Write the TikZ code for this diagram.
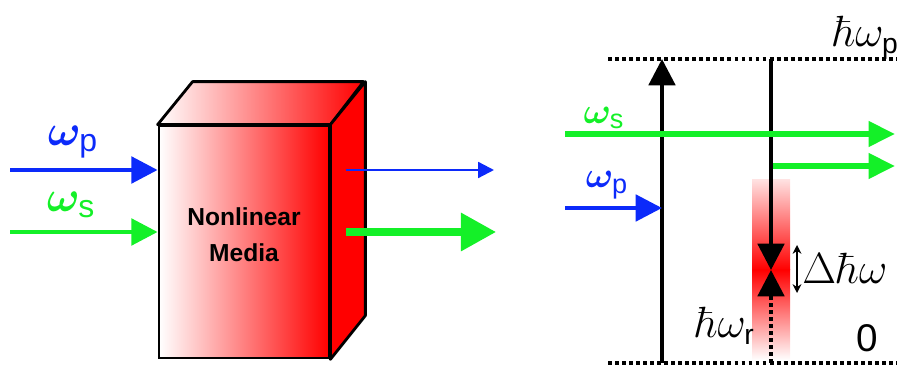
\documentclass[tikz,border=0pt]{standalone}
\usepackage{amsmath,amssymb}
\usepackage{fontspec}
\setsansfont{Liberation Sans}
\usepackage{tikz}
\usetikzlibrary{arrows.meta,calc}
\definecolor{pumpblue}{RGB}{12,42,250}
\definecolor{signalgreen}{RGB}{20,240,40}
\definecolor{mediared}{RGB}{255,0,0}
\tikzset{
  beam/.style={line width=2.6pt,-{Triangle[length=15pt,width=15pt]}},
  trans/.style={line width=2.3pt,-{Triangle[length=15pt,width=15pt]}},
  level/.style={line width=1.8pt,dash pattern=on 2.2pt off 1.8pt},
  wlabel/.style={font=\fontsize{26}{30}\selectfont\boldmath},
  elabel/.style={font=\fontsize{23}{26}\selectfont},
}

\begin{document}
\begin{tikzpicture}[x=0.02cm,y=-0.02cm]
  \useasboundingbox (0,0) rectangle (910,367);
  % nonlinear medium
  \node[draw,line width=1.6pt,minimum width=3.4cm,minimum height=4.64cm,inner sep=0pt,
        left color=white,right color=mediared] (media) at (244,242) {};
  \shadedraw[line width=1.6pt,line join=round,left color=white,right color=mediared]
    (media.north west) -- ++(35,-43) -- ++(171,0) -- (media.north east) -- cycle;
  \filldraw[line width=1.6pt,line join=round,fill=mediared]
    (media.north east) -- ++(35,-43) -- ++(0,234) -- (media.south east) -- cycle;
  \node[font=\sffamily\bfseries\fontsize{14}{20.4}\selectfont,align=center] (mediatxt) at (244,235) {Nonlinear\\Media};
  % beams in and out
  \coordinate (pin) at (10,170);
  \coordinate (sin) at (10,232);
  \coordinate (pout) at (346,170);
  \coordinate (pend) at (494,170);
  \coordinate (sout) at (346,232);
  \coordinate (send) at (496,232);
  \draw[beam,pumpblue] (pin) -- (pin -| media.west);
  \draw[beam,signalgreen] (sin) -- (sin -| media.west);
  \draw[pumpblue,line width=1.3pt,-{Triangle[length=9pt,width=9pt]}] (pout) -- (pend);
  \draw[signalgreen,line width=4pt,-{Triangle[length=20pt,width=21pt]}] (sout) -- (send);
  \node[wlabel,text=pumpblue] (wp) at (73,142) {$\omega_{\textsf{p}}$};
  \node[wlabel,text=signalgreen] (ws) at (71,205) {$\omega_{\textsf{s}}$};

  % energy levels
  \shade[top color=mediared!12,bottom color=mediared] (752,180) rectangle (790,270);
  \shade[top color=mediared,bottom color=white] (752,270) rectangle (790,360);
  \coordinate (ptop-w) at (608,59);
  \coordinate (ptop-e) at (897,59);
  \coordinate (gnd-w) at (608,363);
  \coordinate (gnd-e) at (897,363);
  \draw[level] (ptop-w) -- (ptop-e);
  \draw[level] (gnd-w) -- (gnd-e);
  \coordinate (up-s) at (662,363);
  \coordinate (up-e) at (662,59);
  \coordinate (dn-s) at (771,59);
  \coordinate (vib) at (771,270);
  \coordinate (vib-b) at (771,300);
  \coordinate (gnd-r) at (771,363);
  \draw[trans] (up-s) -- (up-e);
  \draw[trans] (dn-s) -- (vib);
  \draw[level] (gnd-r) -- (vib-b);
  \draw[trans] (vib-b) -- (vib);
  % beams
  \coordinate (s-w) at (565,134);
  \coordinate (s-e) at (895,134);
  \coordinate (i-w) at (773,166);
  \coordinate (i-e) at (895,166);
  \coordinate (p-w) at (565,208);
  \draw[signalgreen,line width=3pt,-{Triangle[length=15pt,width=14pt]}] (s-w) -- (s-e);
  \draw[signalgreen,line width=3pt,-{Triangle[length=15pt,width=14pt]}] (i-w) -- (i-e);
  \draw[pumpblue,line width=2.3pt,-{Triangle[length=15pt,width=15pt]}] (p-w) -- (p-w -| up-s);
  \node[wlabel,font=\fontsize{22}{26}\selectfont\boldmath,text=signalgreen] (ws2) at (604,118) {$\omega_{\textsf{s}}$};
  \node[wlabel,font=\fontsize{22}{26}\selectfont\boldmath,text=pumpblue] (wp2) at (607,185) {$\omega_{\textsf{p}}$};
  % gap and labels
  \coordinate (gap-t) at (797,245);
  \coordinate (gap-b) at (797,293);
  \draw[line width=0.9pt,{Stealth[length=5pt,width=5pt]}-{Stealth[length=5pt,width=5pt]}] (gap-t) -- (gap-b);
  \node[elabel,font=\fontsize{25}{28}\selectfont,anchor=west,inner sep=0pt] (gap) at (802,268) {$\Delta\hbar\omega$};
  \node[elabel,anchor=east,inner sep=0pt] (ep) at (899,38) {$\hbar\omega_{\textsf{p}}$};
  \node[elabel,anchor=east,inner sep=0pt] (er) at (755,326) {$\hbar\omega_{\textsf{r}}$};
  \node[font=\sffamily\fontsize{22}{26}\selectfont] (zero) at (867,338) {0};
\end{tikzpicture}
\end{document}
